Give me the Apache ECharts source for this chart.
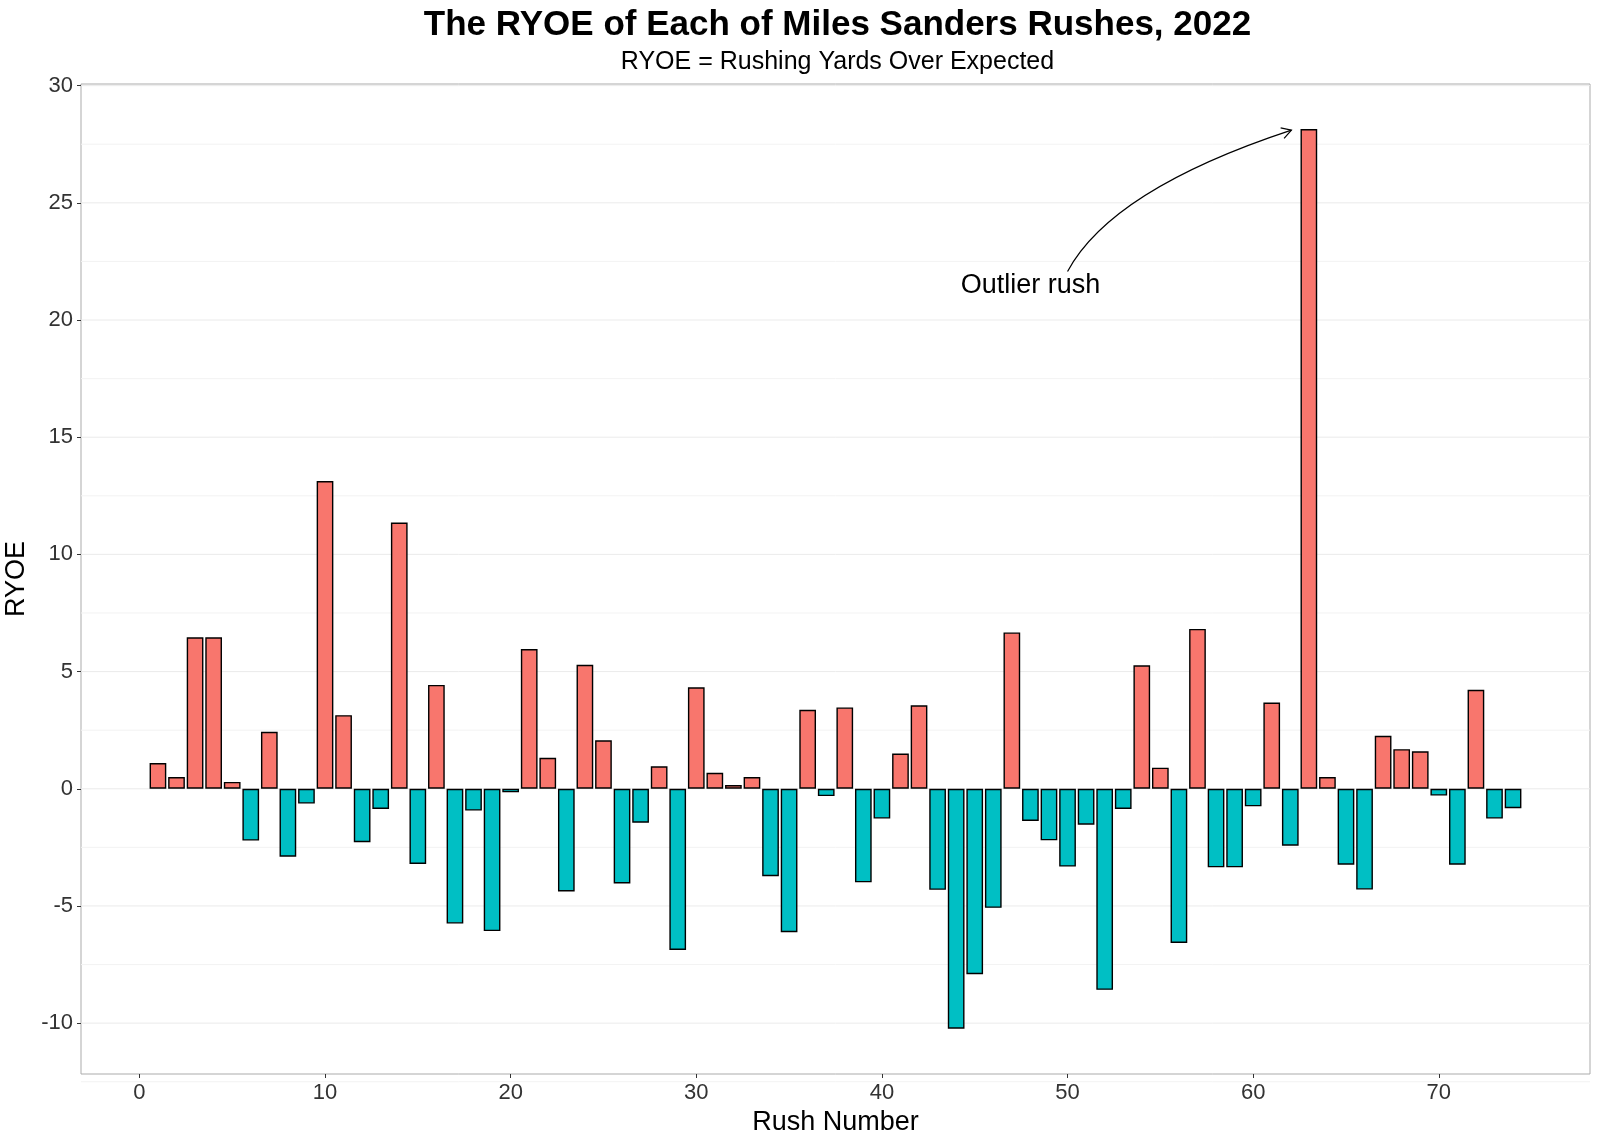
<!DOCTYPE html>
<html>
<head>
<meta charset="utf-8">
<script src="https://cdn.jsdelivr.net/npm/echarts@6/dist/echarts.min.js"></script>
<style>
html,body{margin:0;padding:0;background:#fff;}
#chart{width:1600px;height:1143px;}
</style>
</head>
<body>
<div id="chart"></div>
<script>
// ---- data ----
const rushNumber = [1,2,3,4,5,6,7,8,9,10,11,12,13,14,15,16,17,18,19,20,21,22,23,24,25,26,27,28,29,30,31,32,33,34,35,36,37,38,39,40,41,42,43,44,45,46,47,48,49,50,51,52,53,54,55,56,57,58,59,60,61,62,63,64,65,66,67,68,69,70,71,72,73,74];
const ryoe = [1.1,0.5,6.46,6.46,0.29,-2.21,2.43,-2.9,-0.63,13.13,
  3.14,-2.28,-0.86,11.36,-3.21,4.43,-5.75,-0.93,-6.07,-0.15,
  5.96,1.32,-4.38,5.29,2.07,-4.04,-1.45,0.96,-6.88,4.33,
  0.68,0.16,0.5,-3.73,-6.12,3.37,-0.31,3.47,-3.99,-1.27,
  1.5,3.56,-4.31,-10.24,-7.91,-5.08,6.67,-1.37,-2.2,-3.32,
  -1.53,-8.58,-0.86,5.27,0.9,-6.58,6.82,-3.35,-3.35,-0.75,
  3.68,-2.43,28.15,0.5,-3.24,-4.3,2.26,1.69,1.6,-0.29,
  -3.24,4.22,-1.27,-0.83];
const xTicks = [0,10,20,30,40,50,60,70];
const yTicks = [-10,-5,0,5,10,15,20,25,30];
const yMajorGrid = [-10,-5,0,5,10,15,20,25,30];
const yMinorGrid = [-12.5,-7.5,-2.5,2.5,7.5,12.5,17.5,22.5,27.5];
// annotation (data coordinates)
const annotationText = 'Outlier rush';
const annotationTextPos = [48.0, 21.45];
const annotationCurve = [50.0, 22.07, 52.38, 25.57, 62.06, 28.1]; // start, control, end

const titleText = 'The RYOE of Each of Miles Sanders Rushes, 2022';
const subtitleText = 'RYOE = Rushing Yards Over Expected';

const POS = '#F8766D', NEG = '#00BFC4';
const FONT = '"Liberation Sans", Arial, Helvetica, sans-serif';

const GRID_L = 81, GRID_R = 10;
const chart = echarts.init(document.getElementById('chart'));

const gridData = yMajorGrid.map(v => [0, v, 1]).concat(yMinorGrid.map(v => [0, v, 0]));

const option = {
  animation: false,
  backgroundColor: '#fff',
  title: {
    text: titleText,
    subtext: subtitleText,
    left: GRID_L + (1600 - GRID_L - GRID_R) / 2 - 3,
    textAlign: 'center',
    top: 3,
    itemGap: 7,
    textStyle: {fontFamily: FONT, fontWeight: 'bold', fontSize: 35, color: '#000'},
    subtextStyle: {fontFamily: FONT, fontSize: 25, color: '#000'}
  },
  grid: {
    left: GRID_L, right: GRID_R, top: 84, bottom: 69,
    outerBoundsMode: 'none',
    containLabel: false,
    show: true, borderColor: '#ABABAB', borderWidth: 1, backgroundColor: 'transparent'
  },
  xAxis: {
    type: 'value',
    min: -3.145, max: 78.145,
    name: 'Rush Number',
    nameLocation: 'middle',
    nameGap: 33,
    nameTextStyle: {fontFamily: FONT, fontSize: 27, color: '#000'},
    axisLine: {show: false, onZero: false},
    axisTick: {show: true, length: 4, lineStyle: {color: '#333'}, customValues: xTicks},
    axisLabel: {fontFamily: FONT, fontSize: 22, color: '#333', margin: 8, customValues: xTicks},
    splitLine: {show: false}
  },
  yAxis: {
    type: 'value',
    min: -12.17, max: 30.07,
    name: 'RYOE',
    nameLocation: 'middle',
    nameGap: 46,
    nameTextStyle: {fontFamily: FONT, fontSize: 27, color: '#000'},
    axisLine: {show: false, onZero: false},
    axisTick: {show: true, length: 4, lineStyle: {color: '#333'}, customValues: yTicks},
    axisLabel: {fontFamily: FONT, fontSize: 22, color: '#333', margin: 8, customValues: yTicks},
    splitLine: {show: false}
  },
  series: [
    {
      type: 'custom',
      name: 'grid',
      silent: true,
      z: 0,
      data: gridData,
      renderItem: function (params, api) {
        const y = api.coord([0, api.value(1)])[1];
        const cs = params.coordSys;
        return {
          type: 'line',
          shape: {x1: cs.x, y1: y, x2: cs.x + cs.width, y2: y},
          style: {stroke: api.value(2) ? '#EBEBEB' : '#F3F3F3', lineWidth: 1}
        };
      }
    },
    {
      type: 'bar',
      name: 'RYOE',
      z: 2,
      barWidth: '90%',
      data: rushNumber.map((n, i) => [n, ryoe[i]]),
      itemStyle: {
        color: p => (p.value[1] > 0 ? POS : NEG),
        borderColor: '#000',
        borderWidth: 1.4
      }
    },
    {
      type: 'custom',
      name: 'annotation',
      silent: true,
      z: 5,
      data: [[annotationCurve[0], annotationCurve[1]]],
      renderItem: function (params, api) {
        const s = api.coord([annotationCurve[0], annotationCurve[1]]);
        const c = api.coord([annotationCurve[2], annotationCurve[3]]);
        const e = api.coord([annotationCurve[4], annotationCurve[5]]);
        const t = api.coord(annotationTextPos);
        const ang = Math.atan2(e[1] - c[1], e[0] - c[0]);
        const L = 11, spread = Math.PI / 6;
        const a1 = [e[0] - L * Math.cos(ang - spread), e[1] - L * Math.sin(ang - spread)];
        const a2 = [e[0] - L * Math.cos(ang + spread), e[1] - L * Math.sin(ang + spread)];
        return {
          type: 'group',
          children: [
            {type: 'bezierCurve', shape: {x1: s[0], y1: s[1], cpx1: c[0], cpy1: c[1], x2: e[0], y2: e[1]},
             style: {stroke: '#000', lineWidth: 1.2, fill: null}},
            {type: 'polyline', shape: {points: [a1, e, a2]}, style: {stroke: '#000', lineWidth: 1.2, fill: null}},
            {type: 'text', x: t[0], y: t[1],
             style: {text: annotationText, fontFamily: FONT, fontSize: 27, fill: '#000', align: 'center', verticalAlign: 'middle'}}
          ]
        };
      }
    }
  ]
};
chart.setOption(option);
</script>
</body>
</html>
